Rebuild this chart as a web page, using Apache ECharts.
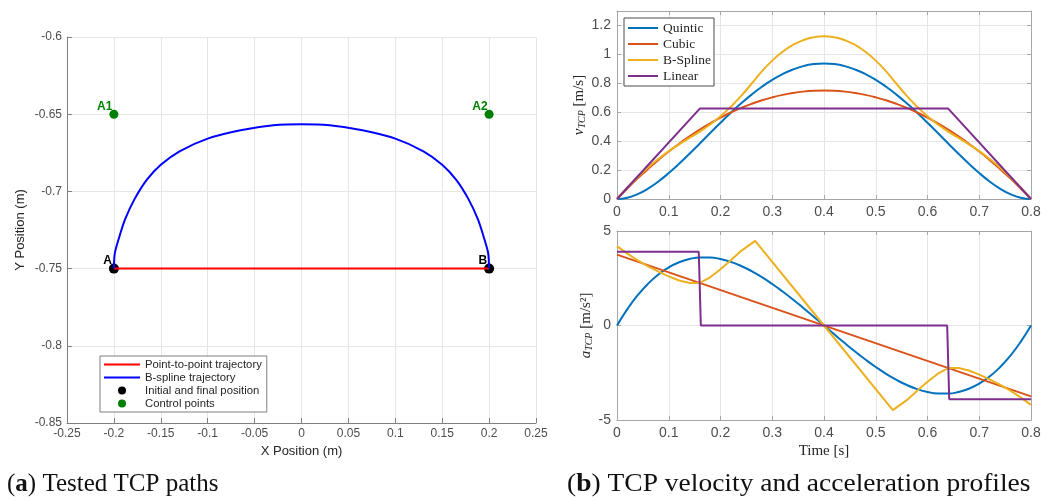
<!DOCTYPE html>
<html>
<head>
<meta charset="utf-8">
<script src="https://cdn.jsdelivr.net/npm/echarts@6/dist/echarts.min.js"></script>
<style>
  html, body { margin: 0; padding: 0; background: #fff; }
  #chart { width: 1054px; height: 500px; }
</style>
</head>
<body>
<div id="chart"></div>
<script>
// ---- (a) tested TCP paths ----
const pathLineX = [-0.2, 0.2];
const pathLineY = [-0.75, -0.75];
const bsplineX = [-0.2, -0.199, -0.195, -0.188, -0.178, -0.165, -0.15, -0.13, -0.1, -0.065, -0.03, 0,
  0.03, 0.065, 0.1, 0.13, 0.15, 0.165, 0.178, 0.188, 0.195, 0.199, 0.2];
const bsplineY = [-0.75, -0.74, -0.731, -0.718, -0.705, -0.6925, -0.6827, -0.674, -0.6658, -0.6604, -0.6572, -0.6565,
  -0.6572, -0.6604, -0.6658, -0.674, -0.6827, -0.6925, -0.705, -0.718, -0.731, -0.74, -0.75];
const endX = [-0.2, 0.2];
const endY = [-0.75, -0.75];
const endNames = ['A', 'B'];
const ctrlX = [-0.2, 0.2];
const ctrlY = [-0.65, -0.65];
const ctrlNames = ['A1', 'A2'];

// ---- (b) velocity / acceleration ----
const tGrid = [0, 0.02, 0.04, 0.06, 0.08, 0.1, 0.12, 0.14, 0.16, 0.18, 0.2, 0.22, 0.24, 0.26, 0.28, 0.3, 0.32, 0.34, 0.36, 0.38, 0.4,
  0.42, 0.44, 0.46, 0.48, 0.5, 0.52, 0.54, 0.56, 0.58, 0.6, 0.62, 0.64, 0.66, 0.68, 0.7, 0.72, 0.74, 0.76, 0.78, 0.8];
const vQuintic = [0, 0.0089, 0.0338, 0.0722, 0.1215, 0.1794, 0.2438, 0.3127, 0.384, 0.4561, 0.5273, 0.5963, 0.6615, 0.7219,
  0.7763, 0.824, 0.864, 0.8958, 0.9188, 0.9328, 0.9375,
  0.9328, 0.9188, 0.8958, 0.864, 0.824, 0.7763, 0.7219, 0.6615, 0.5963, 0.5273, 0.4561, 0.384, 0.3127, 0.2438, 0.1794,
  0.1215, 0.0722, 0.0338, 0.0089, 0];
const vCubic = [0, 0.0731, 0.1425, 0.2081, 0.27, 0.3281, 0.3825, 0.4331, 0.48, 0.5231, 0.5625, 0.5981, 0.63, 0.6581,
  0.6825, 0.7031, 0.72, 0.7331, 0.7425, 0.7481, 0.75,
  0.7481, 0.7425, 0.7331, 0.72, 0.7031, 0.6825, 0.6581, 0.63, 0.5981, 0.5625, 0.5231, 0.48, 0.4331, 0.3825, 0.3281,
  0.27, 0.2081, 0.1425, 0.0731, 0];
const vBspline = [0, 0.08, 0.152, 0.218, 0.277, 0.331, 0.378, 0.422, 0.466, 0.515, 0.572, 0.638, 0.713, 0.797,
  0.883, 0.957, 1.018, 1.065, 1.099, 1.119, 1.125,
  1.119, 1.099, 1.065, 1.018, 0.957, 0.883, 0.797, 0.713, 0.638, 0.572, 0.515, 0.466, 0.422, 0.378, 0.331,
  0.277, 0.218, 0.152, 0.08, 0];
const linVT = [0, 0.16, 0.64, 0.8];
const vLinear = [0, 0.625, 0.625, 0];

const aQuintic = [0, 0.868, 1.603, 2.211, 2.7, 3.076, 3.347, 3.519, 3.6, 3.597, 3.516, 3.365, 3.15, 2.879,
  2.559, 2.197, 1.8, 1.375, 0.928, 0.468, 0,
  -0.468, -0.928, -1.375, -1.8, -2.197, -2.559, -2.879, -3.15, -3.365, -3.516, -3.597, -3.6, -3.519, -3.347, -3.076,
  -2.7, -2.211, -1.603, -0.868, 0];
const cubicAT = [0, 0.8];
const aCubic = [3.75, -3.75];
const bsAT = [0, 0.02, 0.04, 0.06, 0.08, 0.1, 0.12, 0.14, 0.16, 0.18, 0.2, 0.22, 0.24, 0.267, 0.4,
  0.533, 0.56, 0.58, 0.6, 0.62, 0.64, 0.66, 0.68, 0.7, 0.72, 0.74, 0.76, 0.78, 0.8];
const aBspline = [4.2, 3.8, 3.45, 3.13, 2.85, 2.6, 2.38, 2.25, 2.25, 2.55, 2.98, 3.45, 3.95, 4.48, 0,
  -4.48, -3.95, -3.45, -2.98, -2.55, -2.25, -2.25, -2.38, -2.6, -2.85, -3.13, -3.45, -3.8, -4.2];
const linAT = [0, 0.158, 0.162, 0.638, 0.642, 0.8];
const aLinear = [3.906, 3.906, 0, 0, -3.906, -3.906];

const pairs = (xs, ys) => xs.map((x, i) => [x, ys[i]]);

const SANS = "'Liberation Sans', Arial, sans-serif";
const SERIF = "'Liberation Serif', 'Times New Roman', serif";
const C_Q = '#0072BD', C_C = '#D95319', C_B = '#EDB120', C_L = '#7E2F8E';
const GRIDC = '#e6e6e6';
const FRAME = '#a6a6a6';
// flat line swatch for legends (zero-size corners keep the box size)
const LINE_ICON = 'path://M0,0L36,0L36,0Z M0,3L36,3L36,5L0,5Z M0,8L36,8L36,8Z';
const LINE_ICON_R = 'path://M0,0L30,0L30,0Z M0,3L30,3L30,5L0,5Z M0,8L30,8L30,8Z';

const leftAxisCommon = {
  type: 'value', gridIndex: 0,
  axisLine: { onZero: false, lineStyle: { color: '#808080', width: 1 } },
  axisTick: { inside: true, length: 5, lineStyle: { color: '#808080' } },
  axisLabel: { color: '#4d4d4d', fontSize: 12, fontFamily: SANS, margin: 5 },
  splitLine: { show: true, lineStyle: { color: GRIDC } },
  nameTextStyle: { color: '#262626', fontSize: 13, fontFamily: SANS }
};

function rightX(grid, pos, labels) {
  return {
    type: 'value', gridIndex: grid, position: pos, min: 0, max: 0.8, interval: 0.1,
    axisLine: { onZero: false, lineStyle: { color: FRAME } },
    axisTick: { inside: true, length: 4, lineStyle: { color: FRAME } },
    axisLabel: { show: labels, color: '#4d4d4d', fontSize: 14, fontFamily: SANS, margin: 6 },
    splitLine: { show: labels, lineStyle: { color: GRIDC } }
  };
}
function rightY(grid, pos, labels, min, max, step) {
  return {
    type: 'value', gridIndex: grid, position: pos, min: min, max: max, interval: step,
    axisLine: { onZero: false, show: true, lineStyle: { color: FRAME } },
    axisTick: { show: true, inside: true, length: 4, lineStyle: { color: FRAME } },
    axisLabel: { show: labels, color: '#4d4d4d', fontSize: 14, fontFamily: SANS, margin: 6, showMaxLabel: step !== 0.2 },
    splitLine: { show: labels, lineStyle: { color: GRIDC } }
  };
}

const yNameRich = {
  i: { fontFamily: SERIF, fontStyle: 'italic', fontSize: 15, color: '#262626', lineHeight: 18 },
  sub: { fontFamily: SERIF, fontStyle: 'italic', fontSize: 10, color: '#262626', verticalAlign: 'bottom', lineHeight: 14 },
  t: { fontFamily: SERIF, fontSize: 15, color: '#262626', lineHeight: 18 }
};

const chart = echarts.init(document.getElementById('chart'));
chart.setOption({
  animation: false,
  backgroundColor: '#fff',
  grid: [
    { left: 67, right: 518, top: 37, bottom: 77 },
    { left: 617, right: 23, top: 11, bottom: 301 },
    { left: 617, right: 23, top: 231, bottom: 80 }
  ],
  xAxis: [
    Object.assign({}, leftAxisCommon, { min: -0.25, max: 0.25, interval: 0.05,
      name: 'X Position (m)', nameLocation: 'middle', nameGap: 22 }),
    rightX(1, 'bottom', true),
    rightX(1, 'top', false),
    Object.assign(rightX(2, 'bottom', true), { name: 'Time [s]', nameLocation: 'middle', nameGap: 24,
      nameTextStyle: { fontFamily: SERIF, fontSize: 15, color: '#262626' } }),
    rightX(2, 'top', false)
  ],
  yAxis: [
    Object.assign({}, leftAxisCommon, { min: -0.85, max: -0.6, interval: 0.05,
      name: 'Y Position (m)', nameLocation: 'middle', nameGap: 40 }),
    Object.assign(rightY(1, 'left', true, 0, 1.3, 0.2), { name: '{i|v}{sub|TCP}{t| [m/s]}', nameLocation: 'middle',
      nameGap: 26, nameTextStyle: { rich: yNameRich } }),
    rightY(1, 'right', false, 0, 1.3, 0.2),
    Object.assign(rightY(2, 'left', true, -5, 5, 5), { name: '{i|a}{sub|TCP}{t| [m/s²]}', nameLocation: 'middle',
      nameGap: 22, nameTextStyle: { rich: yNameRich } }),
    rightY(2, 'right', false, -5, 5, 5)
  ],
  legend: [
    {
      left: 100, top: 356, orient: 'vertical', itemWidth: 36, itemHeight: 8, itemGap: 0,
      padding: [2, 5, 2, 4], borderColor: '#7f7f7f', borderWidth: 1, backgroundColor: '#fff',
      textStyle: { fontSize: 11.3, fontFamily: SANS, color: '#262626', lineHeight: 13 },
      data: [
        { name: 'Point-to-point trajectory', icon: LINE_ICON },
        { name: 'B-spline trajectory', icon: LINE_ICON },
        { name: 'Initial and final position', icon: 'circle' },
        { name: 'Control points', icon: 'circle' }
      ]
    },
    {
      left: 624, top: 18, orient: 'vertical', itemWidth: 30, itemHeight: 8, itemGap: 0,
      padding: [2, 3, 2, 4], borderColor: '#4d4d4d', borderWidth: 1, backgroundColor: '#fff',
      textStyle: { fontSize: 13.5, fontFamily: SERIF, color: '#262626', lineHeight: 16 },
      icon: LINE_ICON_R,
      data: ['Quintic', 'Cubic', 'B-Spline', 'Linear']
    }
  ],
  series: [
    { name: 'Point-to-point trajectory', type: 'line', xAxisIndex: 0, yAxisIndex: 0, symbol: 'none',
      color: '#ff0000', lineStyle: { width: 2, color: '#ff0000' }, data: pairs(pathLineX, pathLineY) },
    { name: 'B-spline trajectory', type: 'line', xAxisIndex: 0, yAxisIndex: 0, symbol: 'none', smooth: 0.3,
      color: '#0000ff', lineStyle: { width: 2, color: '#0000ff' }, data: pairs(bsplineX, bsplineY) },
    { name: 'Initial and final position', type: 'scatter', xAxisIndex: 0, yAxisIndex: 0, symbolSize: 10,
      itemStyle: { color: '#000', opacity: 1 },
      label: { show: true, formatter: '{b}', position: [3, 3], align: 'right', verticalAlign: 'bottom',
        fontWeight: 'bold', fontSize: 12, fontFamily: SANS, color: '#000' },
      data: endX.map((x, i) => ({ name: endNames[i], value: [x, endY[i]] })) },
    { name: 'Control points', type: 'scatter', xAxisIndex: 0, yAxisIndex: 0, symbolSize: 9,
      itemStyle: { color: '#008000', opacity: 1 },
      label: { show: true, formatter: '{b}', position: [3, 3], align: 'right', verticalAlign: 'bottom',
        fontWeight: 'bold', fontSize: 12, fontFamily: SANS, color: '#008000' },
      data: ctrlX.map((x, i) => ({ name: ctrlNames[i], value: [x, ctrlY[i]] })) },

    { name: 'Quintic', type: 'line', xAxisIndex: 1, yAxisIndex: 1, symbol: 'none', smooth: true,
      color: C_Q, lineStyle: { width: 2 }, data: pairs(tGrid, vQuintic) },
    { name: 'Cubic', type: 'line', xAxisIndex: 1, yAxisIndex: 1, symbol: 'none', smooth: true,
      color: C_C, lineStyle: { width: 2 }, data: pairs(tGrid, vCubic) },
    { name: 'B-Spline', type: 'line', xAxisIndex: 1, yAxisIndex: 1, symbol: 'none', smooth: true,
      color: C_B, lineStyle: { width: 2 }, data: pairs(tGrid, vBspline) },
    { name: 'Linear', type: 'line', xAxisIndex: 1, yAxisIndex: 1, symbol: 'none',
      color: C_L, lineStyle: { width: 2 }, data: pairs(linVT, vLinear) },

    { name: 'Quintic', type: 'line', xAxisIndex: 3, yAxisIndex: 3, symbol: 'none', smooth: true,
      color: C_Q, lineStyle: { width: 2 }, data: pairs(tGrid, aQuintic) },
    { name: 'Cubic', type: 'line', xAxisIndex: 3, yAxisIndex: 3, symbol: 'none',
      color: C_C, lineStyle: { width: 2 }, data: pairs(cubicAT, aCubic) },
    { name: 'B-Spline', type: 'line', xAxisIndex: 3, yAxisIndex: 3, symbol: 'none',
      color: C_B, lineStyle: { width: 2 }, data: pairs(bsAT, aBspline) },
    { name: 'Linear', type: 'line', xAxisIndex: 3, yAxisIndex: 3, symbol: 'none',
      color: C_L, lineStyle: { width: 2 }, data: pairs(linAT, aLinear) }
  ],
  graphic: [
    { type: 'text', x: 7, y: 472,
      style: { text: '({b|a}) Tested TCP paths', fontFamily: SERIF, fontSize: 25, fill: '#111',
        rich: { b: { fontFamily: SERIF, fontSize: 25, fontWeight: 'bold', fill: '#111' } } } },
    { type: 'text', x: 567, y: 472, scaleX: 1.1,
      style: { text: '({b|b}) TCP velocity and acceleration profiles', fontFamily: SERIF, fontSize: 25, fill: '#111',
        rich: { b: { fontFamily: SERIF, fontSize: 25, fontWeight: 'bold', fill: '#111' } } } }
  ]
});
</script>
</body>
</html>
